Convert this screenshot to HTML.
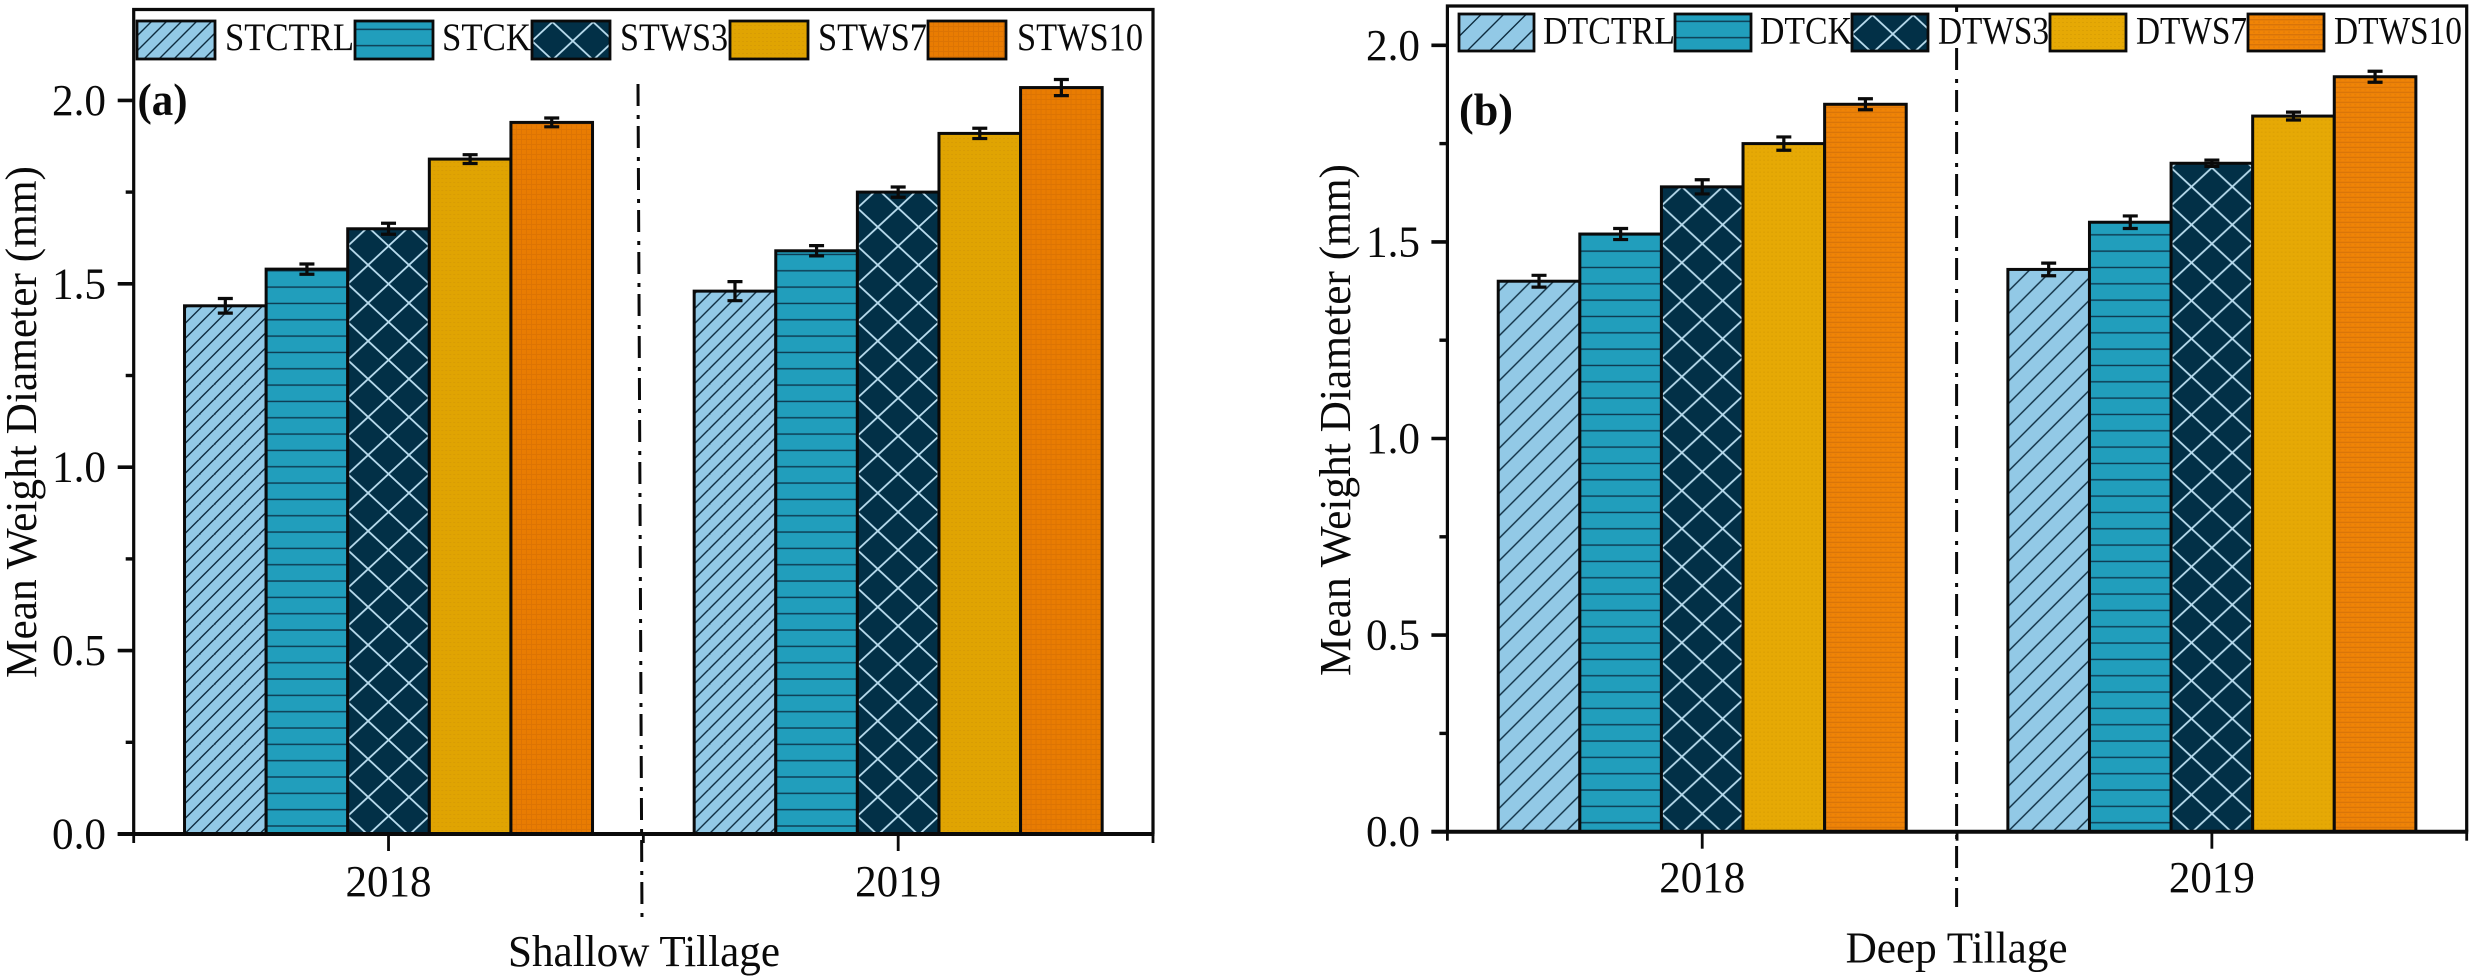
<!DOCTYPE html>
<html lang="en">
<head>
<meta charset="utf-8">
<title>Mean Weight Diameter under Shallow and Deep Tillage</title>
<style>
html,body{margin:0;padding:0;background:#fff;}
svg{display:block;}
text{font-family:"Liberation Serif",serif;fill:#0a0a0a;}
</style>
</head>
<body>
<svg id="chart" xmlns="http://www.w3.org/2000/svg" width="2473" height="979" viewBox="0 0 2473 979">
<rect x="0" y="0" width="2473" height="979" fill="#fff"/>
<defs>
<pattern id="hatch-a" patternUnits="userSpaceOnUse" width="15" height="15">
<rect width="15" height="15" fill="#92c9e6"/>
<path d="M-1 16 L16 -1 M-4 4 L4 -4 M11 19 L19 11" stroke="#0d2c40" stroke-width="1.4" fill="none"/>
</pattern>
<pattern id="hatch-b" patternUnits="userSpaceOnUse" width="22.5" height="22.5">
<rect width="22.5" height="22.5" fill="#92c9e6"/>
<path d="M-1 23.5 L23.5 -1 M-4 4 L4 -4 M18.5 26.5 L26.5 18.5" stroke="#0d2c40" stroke-width="1.4" fill="none"/>
</pattern>
<pattern id="hlines-a" patternUnits="userSpaceOnUse" y="-8" width="20" height="16.33">
<rect width="20" height="16.33" fill="#219ebc"/>
<rect y="-0.7" width="20" height="1.4" fill="#0d3a50"/>
<rect y="15.63" width="20" height="1.4" fill="#0d3a50"/>
</pattern>
<pattern id="hlines-b" patternUnits="userSpaceOnUse" y="-9" width="20" height="16.33">
<rect width="20" height="16.33" fill="#219ebc"/>
<rect y="-0.7" width="20" height="1.4" fill="#0d3a50"/>
<rect y="15.63" width="20" height="1.4" fill="#0d3a50"/>
</pattern>
<pattern id="lattice" patternUnits="userSpaceOnUse" y="-18" width="40.8" height="38">
<rect width="40.8" height="38" fill="#023047"/>
<path d="M-4.08 -3.8 L44.88 41.8 M44.88 -3.8 L-4.08 41.8" stroke="#b9dcee" stroke-width="1.8" fill="none"/>
</pattern>
<pattern id="yellow-a" patternUnits="userSpaceOnUse" width="4" height="4">
<rect width="4" height="4" fill="#e0a402"/>
<rect width="2" height="1" fill="#d89c04"/>
</pattern>
<pattern id="yellow-b" patternUnits="userSpaceOnUse" width="4" height="4">
<rect width="4" height="4" fill="#e6a905"/>
<rect width="2" height="1" fill="#dba004"/>
</pattern>
<pattern id="orange-a" patternUnits="userSpaceOnUse" width="5" height="5">
<rect width="5" height="5" fill="#e97c02"/>
<rect width="1" height="5" fill="#dc7404"/>
<rect width="5" height="1" fill="#dc7404"/>
</pattern>
<pattern id="orange-b" patternUnits="userSpaceOnUse" width="5" height="5">
<rect width="5" height="5" fill="#f08406"/>
<rect width="5" height="1.4" fill="#d8740a"/>
<rect x="0" y="2.6" width="2" height="1" fill="#e07a08"/>
</pattern>
</defs>
</svg>
<script>
const categories = ['2018', '2019'];
const yTickValues = [0, 0.5, 1, 1.5, 2];
const yTickLabels = ['0.0', '0.5', '1.0', '1.5', '2.0'];
const yMinorValues = [0.25, 0.75, 1.25, 1.75];
const xMajorValues = [1, 2];
const xMinorValues = [0.5, 1.5, 2.5];

const seriesNamesA = ['STCTRL', 'STCK', 'STWS3', 'STWS7', 'STWS10'];
const values2018A = [1.44, 1.54, 1.65, 1.84, 1.94];
const values2019A = [1.48, 1.59, 1.75, 1.91, 2.035];
const errors2018A = [0.02, 0.014, 0.015, 0.012, 0.012];
const errors2019A = [0.026, 0.014, 0.014, 0.014, 0.022];

const seriesNamesB = ['DTCTRL', 'DTCK', 'DTWS3', 'DTWS7', 'DTWS10'];
const values2018B = [1.40, 1.52, 1.64, 1.75, 1.85];
const values2019B = [1.43, 1.55, 1.70, 1.82, 1.92];
const errors2018B = [0.015, 0.014, 0.018, 0.017, 0.014];
const errors2019B = [0.016, 0.016, 0.008, 0.01, 0.014];

const NS = 'http://www.w3.org/2000/svg';
const svg = document.getElementById('chart');

function make(parent, tag, attrs) {
  const el = document.createElementNS(NS, tag);
  for (const k in attrs) el.setAttribute(k, attrs[k]);
  parent.appendChild(el);
  return el;
}
function label(parent, str, x, y, size, len, anchor, weight) {
  const el = make(parent, 'text', {
    x: x, y: y, 'font-size': size, 'text-anchor': anchor,
    textLength: len, lengthAdjust: 'spacingAndGlyphs',
    'font-weight': weight || 'normal'
  });
  el.textContent = str;
  return el;
}

function drawPanel(cfg) {
  const g = make(svg, 'g', {});
  
  

  const plotW = cfg.right - cfg.left;
  const xScale = c => cfg.left + (c - 0.5) * plotW / 2;
  const yScale = v => cfg.y0 - v * cfg.pxPerUnit;
  const ink = '#0a0a0a';

  const divider = make(g, 'line', {
    x1: cfg.divX1, y1: cfg.divY1, x2: cfg.divX2, y2: cfg.divY2,
    stroke: ink, 'stroke-width': 3, 'stroke-dasharray': '22 9 4 7'
  });
  
  

  const fills = ['url(#hatch-' + cfg.id + ')', 'url(#hlines-' + cfg.id + ')', 'url(#lattice)', 'url(#yellow-' + cfg.id + ')', 'url(#orange-' + cfg.id + ')'];

  cfg.groups.forEach((grp, gi) => {
    const cx = xScale(gi + 1);
    grp.values.forEach((v, si) => {
      const bx = cx + (si - 2.5) * cfg.barW;
      const h = cfg.y0 - yScale(v);
      const bar = make(g, 'rect', {
        x: 0, y: -h, width: cfg.barW, height: h,
        transform: 'translate(' + bx + ',' + cfg.y0 + ')',
        fill: fills[si], stroke: ink, 'stroke-width': 3
      });
      
      
    });
  });

  cfg.groups.forEach((grp, gi) => {
    const cx = xScale(gi + 1);
    grp.values.forEach((v, si) => {
      const mx = cx + (si - 2) * cfg.barW;
      const top = yScale(v + grp.errors[si]);
      const bot = yScale(v - grp.errors[si]);
      const err = make(g, 'path', {
        d: 'M' + (mx - 7.5) + ' ' + top + 'H' + (mx + 7.5) + 'M' + mx + ' ' + top + 'V' + bot + 'M' + (mx - 7.5) + ' ' + bot + 'H' + (mx + 7.5),
        fill: 'none', stroke: ink, 'stroke-width': 3.2
      });
      
      
    });
  });

  const frame = make(g, 'path', {
    d: 'M' + cfg.left + ' ' + cfg.y0 + 'V' + cfg.top + 'H' + cfg.right + 'V' + cfg.y0,
    fill: 'none', stroke: ink, 'stroke-width': 3.2
  });
  
  

  const xAxis = make(g, 'line', {
    x1: cfg.left - 16, y1: cfg.y0, x2: cfg.right + 1.5, y2: cfg.y0,
    stroke: ink, 'stroke-width': 4
  });
  
  

  yTickValues.forEach((v, i) => {
    const y = yScale(v);
    const t = make(g, 'line', { x1: cfg.left - 16, y1: y, x2: cfg.left, y2: y, stroke: ink, 'stroke-width': 3.6 });
    
    
    const l = label(g, yTickLabels[i], cfg.yLabelRight, y + 14.5, 44, 54, 'end');
    
    
  });
  yMinorValues.forEach(v => {
    const y = yScale(v);
    const t = make(g, 'line', { x1: cfg.left - 8, y1: y, x2: cfg.left, y2: y, stroke: ink, 'stroke-width': 3.4 });
    
    
  });
  xMajorValues.forEach((c, i) => {
    const x = xScale(c);
    const t = make(g, 'line', { x1: x, y1: cfg.y0, x2: x, y2: cfg.y0 + 17, stroke: ink, 'stroke-width': 2.8 });
    
    
    const l = label(g, categories[i], x, cfg.catBase, 44, 86, 'middle');
    
    
  });
  xMinorValues.forEach(c => {
    const x = xScale(c);
    const t = make(g, 'line', { x1: x, y1: cfg.y0, x2: x, y2: cfg.y0 + 9, stroke: ink, 'stroke-width': 2.8 });
    
    
  });

  const yTitle = label(g, 'Mean Weight Diameter (mm)', 0, 0, 44, 512, 'middle');
  yTitle.setAttribute('transform', 'translate(' + cfg.yTitleX + ',' + cfg.yTitleY + ') rotate(-90)');
  
  

  const xTitle = label(g, cfg.xTitle, cfg.xTitleX, cfg.xTitleBase, 44, cfg.xTitleLen, 'middle');
  
  

  const tag = label(g, cfg.tag, cfg.tagX, cfg.tagBase, 46, cfg.tagLen, 'start', 'bold');
  
  

  const lg = make(g, 'g', {});
  
  
  make(lg, 'rect', { x: cfg.legMask[0], y: cfg.legMask[1], width: cfg.legMask[2], height: cfg.legMask[3], fill: '#fff' });
  cfg.legend.forEach((e, i) => {
    const sw = make(lg, 'rect', {
      x: 0, y: 0, width: e.w, height: cfg.legH,
      transform: 'translate(' + e.x + ',' + cfg.legY + ')',
      fill: fills[i], stroke: ink, 'stroke-width': 2.8
    });
    
    
    const tx = label(lg, cfg.names[i], e.tx, cfg.legBase, 39, e.len, 'start');
    
    
  });
}

drawPanel({
  id: 'a', left: 133.7, right: 1153, top: 9.5, y0: 834, pxPerUnit: 366.8, barW: 81.6,
  names: seriesNamesA,
  groups: [{ values: values2018A, errors: errors2018A }, { values: values2019A, errors: errors2019A }],
  divX1: 638, divY1: 84, divX2: 642, divY2: 920,
  yLabelRight: 106, catBase: 896,
  yTitleX: 36, yTitleY: 422,
  xTitle: 'Shallow Tillage', xTitleX: 644, xTitleBase: 966, xTitleLen: 272,
  tag: '(a)', tagX: 137.5, tagBase: 115, tagLen: 50,
  legMask: [0, 0, 0, 0], legY: 21, legH: 38, legBase: 50,
  legend: [
    { x: 137, w: 78, tx: 225, len: 129 },
    { x: 355, w: 78, tx: 442, len: 89 },
    { x: 532, w: 78, tx: 620, len: 108 },
    { x: 730, w: 78, tx: 818, len: 109 },
    { x: 928, w: 78, tx: 1017, len: 126 }
  ]
});

drawPanel({
  id: 'b', left: 1447.4, right: 2466.7, top: 6, y0: 831.7, pxPerUnit: 393.2, barW: 81.6,
  names: seriesNamesB,
  groups: [{ values: values2018B, errors: errors2018B }, { values: values2019B, errors: errors2019B }],
  divX1: 1956.6, divY1: 6, divX2: 1956.6, divY2: 907,
  yLabelRight: 1420, catBase: 892,
  yTitleX: 1350, yTitleY: 420,
  xTitle: 'Deep Tillage', xTitleX: 1956.6, xTitleBase: 962.7, xTitleLen: 222,
  tag: '(b)', tagX: 1459, tagBase: 125, tagLen: 54,
  legMask: [1930, 12, 60, 34], legY: 14, legH: 37, legBase: 43.5,
  legend: [
    { x: 1459, w: 75, tx: 1543, len: 132 },
    { x: 1675, w: 76, tx: 1760, len: 92 },
    { x: 1852, w: 76, tx: 1938, len: 111 },
    { x: 2050, w: 76, tx: 2136, len: 111 },
    { x: 2248, w: 76, tx: 2334, len: 128 }
  ]
});
</script>
</body>
</html>
